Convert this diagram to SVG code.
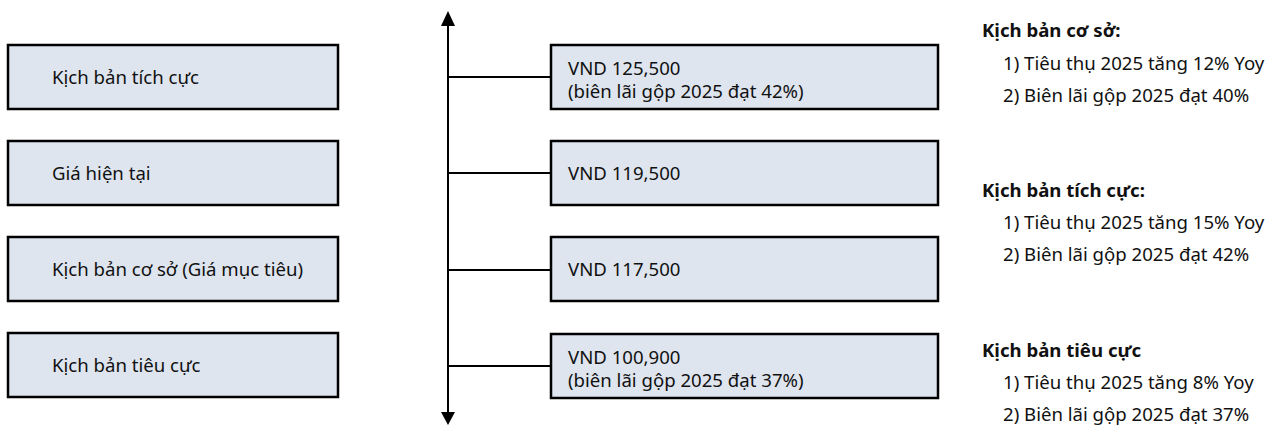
<svg xmlns="http://www.w3.org/2000/svg" width="1270" height="425" viewBox="0 0 1270 425">
<style>
  .box { fill: #DEE5EF; stroke: #000; stroke-width: 2.5; }
  .t { font-family: "Noto Sans", "Open Sans", sans-serif; font-size: 18.6px; fill: #111; }
  .b { font-weight: bold; }
  .conn { stroke: #000; stroke-width: 2; fill: none; }
</style>
<rect width="1270" height="425" fill="#fff"/>
<g id="connectors">
  <line class="conn" x1="448" y1="25" x2="448" y2="413"/>
  <polygon points="448,11 441,26 455,26" fill="#000"/>
  <polygon points="448,425 441,412 455,412" fill="#000"/>
  <line class="conn" x1="448" y1="77" x2="551" y2="77"/>
  <line class="conn" x1="448" y1="173" x2="551" y2="173"/>
  <line class="conn" x1="448" y1="270" x2="551" y2="270"/>
  <line class="conn" x1="448" y1="366" x2="551" y2="366"/>
</g>
<g id="left-positive">
  <rect class="box" x="8" y="45" width="330" height="64"/>
  <text class="t" x="52" y="84">Kịch bản tích cực</text>
</g>
<g id="left-current">
  <rect class="box" x="8" y="141" width="330" height="64"/>
  <text class="t" x="52" y="180">Giá hiện tại</text>
</g>
<g id="left-base">
  <rect class="box" x="8" y="237" width="330" height="64"/>
  <text class="t" x="52" y="276">Kịch bản cơ sở (Giá mục tiêu)</text>
</g>
<g id="left-negative">
  <rect class="box" x="8" y="333" width="330" height="64"/>
  <text class="t" x="52" y="372">Kịch bản tiêu cực</text>
</g>
<g id="price-positive">
  <rect class="box" x="551" y="45" width="387" height="64"/>
  <text class="t" x="568" y="75">VND 125,500</text>
  <text class="t" x="568" y="98">(biên lãi gộp 2025 đạt 42%)</text>
</g>
<g id="price-current">
  <rect class="box" x="551" y="141" width="387" height="64"/>
  <text class="t" x="568" y="180">VND 119,500</text>
</g>
<g id="price-base">
  <rect class="box" x="551" y="237" width="387" height="64"/>
  <text class="t" x="568" y="276">VND 117,500</text>
</g>
<g id="price-negative">
  <rect class="box" x="551" y="334" width="387" height="64"/>
  <text class="t" x="568" y="364">VND 100,900</text>
  <text class="t" x="568" y="387">(biên lãi gộp 2025 đạt 37%)</text>
</g>
<g id="notes-base">
  <text class="t b" x="982" y="37">Kịch bản cơ sở:</text>
  <text class="t" x="1003" y="69.5">1) Tiêu thụ 2025 tăng 12% Yoy</text>
  <text class="t" x="1003" y="101.5">2) Biên lãi gộp 2025 đạt 40%</text>
</g>
<g id="notes-positive">
  <text class="t b" x="982" y="197">Kịch bản tích cực:</text>
  <text class="t" x="1003" y="229">1) Tiêu thụ 2025 tăng 15% Yoy</text>
  <text class="t" x="1003" y="261">2) Biên lãi gộp 2025 đạt 42%</text>
</g>
<g id="notes-negative">
  <text class="t b" x="982" y="357">Kịch bản tiêu cực</text>
  <text class="t" x="1003" y="389">1) Tiêu thụ 2025 tăng 8% Yoy</text>
  <text class="t" x="1003" y="421">2) Biên lãi gộp 2025 đạt 37%</text>
</g>
</svg>
